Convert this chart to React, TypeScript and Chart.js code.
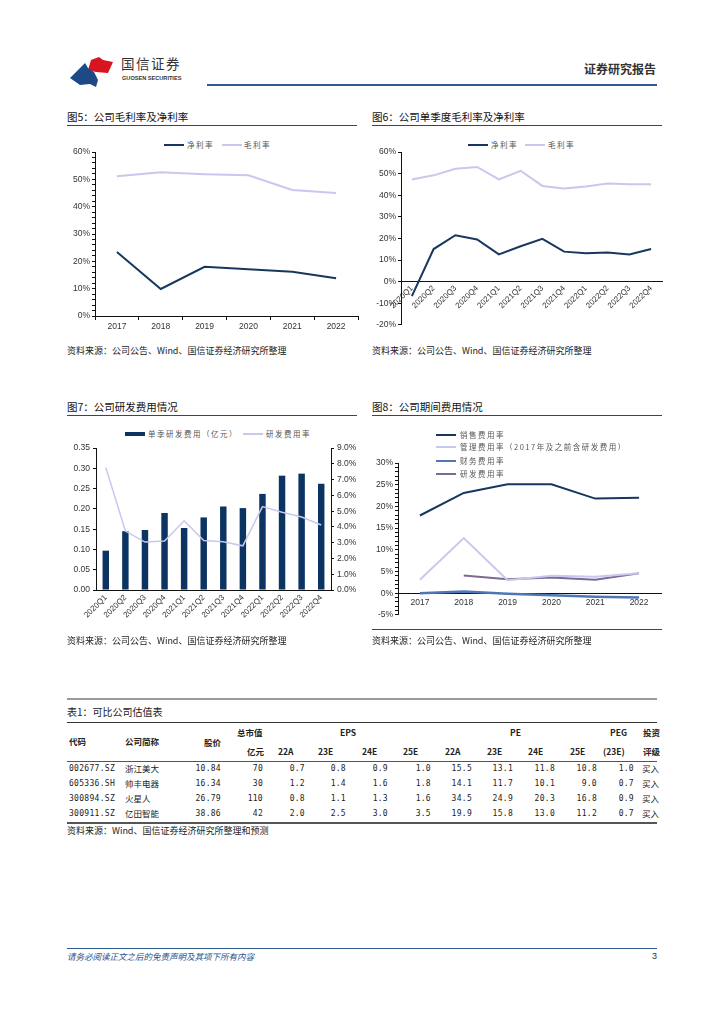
import React, { useEffect, useRef } from "react";
import { Chart, registerables } from "chart.js";

Chart.register(...registerables);

// ---------- data ----------
const years = ["2017", "2018", "2019", "2020", "2021", "2022"];
const netMarginYear = [23.4, 9.9, 18.0, 17.1, 16.2, 13.8];
const grossMarginYear = [51.1, 52.6, 51.9, 51.5, 46.1, 45.0];

const quarters = ["2020Q1", "2020Q2", "2020Q3", "2020Q4", "2021Q1", "2021Q2", "2021Q3", "2021Q4", "2022Q1", "2022Q2", "2022Q3", "2022Q4"];
const netMarginQ = [-6.7, 15.1, 21.5, 19.5, 12.6, 16.4, 19.8, 13.9, 13.1, 13.5, 12.6, 15.1];
const grossMarginQ = [47.3, 49.2, 52.2, 53.1, 47.3, 51.3, 44.3, 43.1, 44.0, 45.4, 45.1, 45.1];

const rdExpenseQ = [0.097, 0.145, 0.148, 0.19, 0.153, 0.179, 0.206, 0.202, 0.237, 0.282, 0.287, 0.262];
const rdRateQ = [7.77, 3.74, 3.04, 3.1, 4.39, 3.14, 3.06, 2.8, 5.29, 4.93, 4.63, 4.12];

const salesRate = [17.9, 23.1, 25.1, 25.1, 21.8, 22.0];
const mgmtRate = [3.1, 12.7, 3.0, 4.0, 3.8, 4.6];
const financeRate = [0.0, 0.4, -0.1, -0.45, -0.8, -1.0];
const rdRateYear = [null, 4.1, 3.2, 3.6, 3.1, 4.6];

// table
const tCodes = ["002677.SZ", "605336.SH", "300894.SZ", "300911.SZ"];
const tNames = ["浙江美大", "帅丰电器", "火星人", "亿田智能"];
const tPrice = ["10.84", "16.34", "26.79", "38.86"];
const tMktCap = ["70", "30", "110", "42"];
const tEps22A = ["0.7", "1.2", "0.8", "2.0"];
const tEps23E = ["0.8", "1.4", "1.1", "2.5"];
const tEps24E = ["0.9", "1.6", "1.3", "3.0"];
const tEps25E = ["1.0", "1.8", "1.6", "3.5"];
const tPe22A = ["15.5", "14.1", "34.5", "19.9"];
const tPe23E = ["13.1", "11.7", "24.9", "15.8"];
const tPe24E = ["11.8", "10.1", "20.3", "13.0"];
const tPe25E = ["10.8", "9.0", "16.8", "11.2"];
const tPeg = ["1.0", "0.7", "0.9", "0.7"];
const tRating = ["买入", "买入", "买入", "买入"];

// ---------- styles ----------
const NAVY = "#17375f";
const LAVENDER = "#c8c8ee";
const BAR = "#0c3462";
const FIN = "#4f77b3";
const PURPLE = "#7b6a93";

const CJK = "'Noto Sans CJK SC', 'Noto Sans', sans-serif";
const TICKFONT = { family: "'Liberation Sans', Arial, sans-serif", size: 8.5 };

Chart.defaults.font.family = "'Liberation Sans', Arial, sans-serif";
Chart.defaults.color = "#333";

function ChartBox({ left, top, width, height, config }: any) {
  const ref = useRef<HTMLCanvasElement | null>(null);
  useEffect(() => {
    if (!ref.current) return;
    const c = new Chart(ref.current, config);
    return () => c.destroy();
  }, []);
  return (
    <div style={{ position: "absolute", left, top, width, height }}>
      <canvas ref={ref} width={width} height={height} style={{ width, height }} />
    </div>
  );
}

const abs = (o: any) => ({ position: "absolute" as const, ...o });

function Title({ x, y, text }: any) {
  return (
    <>
      <div style={abs({ left: x, top: y - 8, fontFamily: CJK, fontSize: 10.5, color: "#111", whiteSpace: "nowrap", lineHeight: "16px" })}>{text}</div>
      <div style={abs({ left: x, top: y + 8, width: 290, height: 1, background: "#444" })} />
    </>
  );
}

function Source({ x, y, text }: any) {
  return (
    <div style={abs({ left: x, top: y - 7, fontFamily: CJK, fontSize: 9, color: "#222", whiteSpace: "nowrap", lineHeight: "14px" })}>{text}</div>
  );
}

function LegLine({ x, y, color, w = 2, text, tx }: any) {
  return (
    <>
      <div style={abs({ left: x, top: y - w / 2, width: 20, height: w, background: color })} />
      <div style={abs({ left: tx ?? x + 24, top: y - 6, fontFamily: CJK, fontSize: 7.5, color: "#555", letterSpacing: 1.5, whiteSpace: "nowrap", lineHeight: "12px" })}>{text}</div>
    </>
  );
}

const lineDs = (label: string, data: any[], color: string, width = 2, extra: any = {}) => ({
  type: "line",
  label,
  data,
  borderColor: color,
  backgroundColor: color,
  borderWidth: width,
  pointRadius: 0,
  tension: 0,
  fill: false,
  ...extra,
});

const axisBorder = { color: "#111", width: 1 };

// ---------- chart configs ----------
const cfg5: any = {
  type: "line",
  data: {
    labels: years,
    datasets: [lineDs("净利率", netMarginYear, NAVY), lineDs("毛利率", grossMarginYear, LAVENDER)],
  },
  options: {
    animation: false,
    responsive: false,
    layout: { padding: { top: 12, right: 2, left: 0, bottom: 0 } },
    plugins: { legend: { display: false }, tooltip: { enabled: false } },
    scales: {
      x: {
        offset: true,
        grid: { offset: true, drawOnChartArea: false, tickLength: 4, color: "#111" },
        border: axisBorder,
        ticks: { font: TICKFONT, padding: 2, color: "#333", maxRotation: 0 },
        afterFit: (s: any) => { s.height = 24; },
      },
      y: {
        min: 0,
        max: 60,
        grid: { drawOnChartArea: false, tickLength: 3, color: "#111" },
        border: axisBorder,
        ticks: {
          stepSize: 2,
          autoSkip: false,
          font: TICKFONT,
          padding: 2,
          color: "#333",
          callback: (v: any) => (Math.round(v) % 10 === 0 ? Math.round(v) + "%" : ""),
        },
        afterFit: (s: any) => { s.width = 33; },
      },
    },
  },
};

const cfg6: any = {
  type: "line",
  data: {
    labels: quarters,
    datasets: [lineDs("净利率", netMarginQ, NAVY), lineDs("毛利率", grossMarginQ, LAVENDER)],
  },
  options: {
    animation: false,
    responsive: false,
    layout: { padding: { top: 12, right: 2, left: 0, bottom: 4 } },
    plugins: { legend: { display: false }, tooltip: { enabled: false } },
    scales: {
      x: {
        position: { y: 0 },
        offset: true,
        grid: { offset: true, drawOnChartArea: false, tickLength: 0, color: "#111" },
        border: axisBorder,
        ticks: { font: { ...TICKFONT, size: 8 }, padding: 2, color: "#333", minRotation: 45, maxRotation: 45, autoSkip: false },
        afterFit: (s: any) => { s.height = 0; },
      },
      y: {
        min: -20,
        max: 60,
        grid: { drawOnChartArea: false, tickLength: 3, color: "#111" },
        border: axisBorder,
        ticks: { stepSize: 10, font: TICKFONT, padding: 2, color: "#333", callback: (v: any) => v + "%" },
        afterFit: (s: any) => { s.width = 33; },
      },
    },
  },
};

const cfg7: any = {
  type: "bar",
  data: {
    labels: quarters,
    datasets: [
      lineDs("研发费用率", rdRateQ, LAVENDER, 1.5, { yAxisID: "y1", order: 0 }),
      {
        type: "bar",
        label: "单季研发费用（亿元）",
        data: rdExpenseQ,
        backgroundColor: BAR,
        borderWidth: 0,
        barPercentage: 0.33,
        categoryPercentage: 1,
        yAxisID: "y",
        order: 1,
      },
    ],
  },
  options: {
    animation: false,
    responsive: false,
    layout: { padding: { top: 8, right: 0, left: 0, bottom: 0 } },
    plugins: { legend: { display: false }, tooltip: { enabled: false } },
    scales: {
      x: {
        offset: true,
        grid: { offset: true, drawOnChartArea: false, tickLength: 0, color: "#111" },
        border: axisBorder,
        ticks: { font: { ...TICKFONT, size: 8 }, padding: 3, color: "#333", minRotation: 45, maxRotation: 45, autoSkip: false },
        afterFit: (s: any) => { s.height = 50; },
      },
      y: {
        position: "left",
        min: 0,
        max: 0.35,
        grid: { drawOnChartArea: false, tickLength: 3, color: "#111" },
        border: axisBorder,
        ticks: { stepSize: 0.05, font: TICKFONT, padding: 3, color: "#333", callback: (v: any) => Number(v).toFixed(2) },
        afterFit: (s: any) => { s.width = 34; },
      },
      y1: {
        position: "right",
        min: 0,
        max: 9,
        grid: { drawOnChartArea: false, tickLength: 3, color: "#111" },
        border: axisBorder,
        ticks: { stepSize: 1, font: TICKFONT, padding: 3, color: "#333", callback: (v: any) => Number(v).toFixed(1) + "%" },
        afterFit: (s: any) => { s.width = 29; },
      },
    },
  },
};

const cfg8: any = {
  type: "line",
  data: {
    labels: years,
    datasets: [
      lineDs("销售费用率", salesRate, NAVY),
      lineDs("管理费用率（2017年及之前含研发费用）", mgmtRate, LAVENDER),
      lineDs("财务费用率", financeRate, FIN, 2.5),
      lineDs("研发费用率", rdRateYear, PURPLE),
    ],
  },
  options: {
    animation: false,
    responsive: false,
    layout: { padding: { top: 23, right: 3, left: 0, bottom: 4 } },
    plugins: { legend: { display: false }, tooltip: { enabled: false } },
    scales: {
      x: {
        position: { y: 0 },
        offset: true,
        grid: { offset: true, drawOnChartArea: false, tickLength: 0, color: "#111" },
        border: axisBorder,
        ticks: { font: TICKFONT, padding: 4, color: "#333", maxRotation: 0 },
        afterFit: (s: any) => { s.height = 0; },
      },
      y: {
        min: -5,
        max: 30,
        grid: { drawOnChartArea: false, tickLength: 3, color: "#111" },
        border: axisBorder,
        ticks: {
          stepSize: 1,
          autoSkip: false,
          font: TICKFONT,
          padding: 2,
          color: "#333",
          callback: (v: any) => (Math.round(v) % 5 === 0 ? Math.round(v) + "%" : ""),
        },
        afterFit: (s: any) => { s.width = 30; },
      },
    },
  },
};

// ---------- table ----------
const rowY = [769, 784, 799, 814];
const rightCols: [string[], number][] = [
  [tPrice, 221],
  [tMktCap, 263],
  [tEps22A, 305],
  [tEps23E, 346],
  [tEps24E, 388],
  [tEps25E, 431],
  [tPe22A, 472],
  [tPe23E, 513],
  [tPe24E, 555],
  [tPe25E, 597],
  [tPeg, 634],
];

const TF = { fontFamily: CJK, fontSize: 8.5, color: "#222", whiteSpace: "nowrap" as const, lineHeight: "12px" };
const NF = { fontFamily: "'DejaVu Sans Mono', 'Liberation Mono', monospace", fontSize: 8, color: "#222", whiteSpace: "nowrap" as const, lineHeight: "12px", letterSpacing: 0.3 };

function Cell({ x, y, text, right, bold, num }: any) {
  const base = num ? NF : TF;
  const style: any = { ...base, top: y - (num ? 6 : 7), fontWeight: bold ? 700 : 400 };
  if (right) style.right = 724 - x;
  else style.left = x;
  return <div style={abs(style)}>{text}</div>;
}

function Table() {
  const cells: any[] = [];
  const hdr1 = [["总市值", 237], ["EPS", 340], ["PE", 510], ["PEG", 610], ["投资", 643]];
  const hdr2 = [["亿元", 247], ["22A", 278], ["23E", 318], ["24E", 362], ["25E", 403], ["22A", 445], ["23E", 487], ["24E", 528], ["25E", 570], ["(23E)", 603], ["评级", 643]];
  hdr1.forEach(([t, x], i) => cells.push(<Cell key={"h1" + i} x={x} y={733} text={t} bold />));
  hdr2.forEach(([t, x], i) => cells.push(<Cell key={"h2" + i} x={x} y={752} text={t} bold />));
  cells.push(<Cell key="hc" x={69} y={742} text="代码" bold />);
  cells.push(<Cell key="hn" x={125} y={742} text="公司简称" bold />);
  cells.push(<Cell key="hp" x={204} y={743} text="股价" bold />);
  rowY.forEach((y, r) => {
    cells.push(<Cell key={"c" + r} x={69} y={y} text={tCodes[r]} num />);
    cells.push(<Cell key={"n" + r} x={125} y={y} text={tNames[r]} />);
    rightCols.forEach(([arr, x], ci) => cells.push(<Cell key={"v" + r + "-" + ci} x={x} y={y} text={arr[r]} right num />));
    cells.push(<Cell key={"r" + r} x={642} y={y} text={tRating[r]} />);
  });
  return (
    <>
      <div style={abs({ left: 67, top: 698, width: 590, height: 2, background: "#9a9a9a" })} />
      <div style={abs({ ...TF, fontSize: 10, left: 67, top: 705, lineHeight: "14px" })}>表1：可比公司估值表</div>
      <div style={abs({ left: 67, top: 722, width: 590, height: 1, background: "#333" })} />
      <div style={abs({ left: 67, top: 761, width: 590, height: 1, background: "#555" })} />
      <div style={abs({ left: 67, top: 822, width: 590, height: 1.5, background: "#555" })} />
      {cells}
      <Source x={67} y={831} text="资料来源：Wind、国信证券经济研究所整理和预测" />
    </>
  );
}

function Logo() {
  return (
    <svg style={abs({ left: 70, top: 54 })} width={46} height={36} viewBox="0 0 46 36">
      <polygon points="21,6 29,3 33,6 43,8 38,19 26,18 18,16" fill="#d7141f" />
      <polygon points="0,24 15,9 18,14 24,18 28,26 26,33 20,30 10,31" fill="#1d4a86" />
    </svg>
  );
}

export default function App() {
  return (
    <div style={{ position: "fixed", left: 0, top: 0, width: 724, height: 1024, background: "#fff", overflow: "hidden" }}>
      {/* header */}
      <Logo />
      <div style={abs({ left: 121, top: 54, fontFamily: CJK, fontSize: 13.5, color: "#333", letterSpacing: 1.5, lineHeight: "18px", whiteSpace: "nowrap" })}>国信证券</div>
      <div style={abs({ left: 122, top: 74, fontFamily: "'Liberation Sans', Arial, sans-serif", fontSize: 5.6, fontWeight: 700, color: "#333", lineHeight: "8px", whiteSpace: "nowrap" })}>GUOSEN SECURITIES</div>
      <div style={abs({ right: 724 - 656, top: 61, fontFamily: CJK, fontSize: 12, fontWeight: 700, color: "#333", lineHeight: "16px", whiteSpace: "nowrap" })}>证券研究报告</div>
      <div style={abs({ left: 207, top: 84, width: 450, height: 2, background: "#2e5c8e" })} />

      {/* chart 5 */}
      <Title x={67} y={117} text="图5：公司毛利率及净利率" />
      <LegLine x={164} y={145} color={NAVY} text="净利率" tx={187} />
      <LegLine x={222} y={145} color={LAVENDER} text="毛利率" tx={244} />
      <ChartBox left={62} top={140} width={298} height={200} config={cfg5} />
      <Source x={67} y={351} text="资料来源：公司公告、Wind、国信证券经济研究所整理" />

      {/* chart 6 */}
      <Title x={372} y={117} text="图6：公司单季度毛利率及净利率" />
      <LegLine x={468} y={145} color={NAVY} text="净利率" tx={491} />
      <LegLine x={525} y={145} color={LAVENDER} text="毛利率" tx={548} />
      <ChartBox left={368} top={140} width={296} height={192} config={cfg6} />
      <Source x={372} y={351} text="资料来源：公司公告、Wind、国信证券经济研究所整理" />

      {/* chart 7 */}
      <Title x={67} y={407} text="图7：公司研发费用情况" />
      <div style={abs({ left: 125, top: 432, width: 20, height: 4, background: BAR })} />
      <div style={abs({ left: 148, top: 428, fontFamily: CJK, fontSize: 7.5, color: "#555", letterSpacing: 1.5, whiteSpace: "nowrap", lineHeight: "12px" })}>单季研发费用（亿元）</div>
      <LegLine x={243} y={434} color={LAVENDER} w={1.5} text="研发费用率" tx={266} />
      <ChartBox left={62} top={440} width={298} height={200} config={cfg7} />
      <Source x={67} y={641} text="资料来源：公司公告、Wind、国信证券经济研究所整理" />

      {/* chart 8 */}
      <Title x={372} y={407} text="图8：公司期间费用情况" />
      <ChartBox left={368} top={440} width={296} height={182} config={cfg8} />
      <LegLine x={436} y={435} color={NAVY} text="销售费用率" tx={460} />
      <LegLine x={436} y={447} color={LAVENDER} text="管理费用率（2017年及之前含研发费用）" tx={460} />
      <LegLine x={436} y={461} color={FIN} w={2.5} text="财务费用率" tx={460} />
      <LegLine x={436} y={474} color={PURPLE} text="研发费用率" tx={460} />
      <div style={abs({ left: 372, top: 629, width: 290, height: 1, background: "#444" })} />
      <Source x={372} y={641} text="资料来源：公司公告、Wind、国信证券经济研究所整理" />

      {/* table */}
      <Table />

      {/* footer */}
      <div style={abs({ left: 67, top: 948, width: 590, height: 1, background: "#2e5c8e" })} />
      <div style={abs({ left: 67, top: 950, fontFamily: CJK, fontSize: 8.5, fontStyle: "italic", color: "#2d4f8a", lineHeight: "12px", whiteSpace: "nowrap" })}>请务必阅读正文之后的免责声明及其项下所有内容</div>
      <div style={abs({ right: 724 - 657, top: 950, fontFamily: "'Liberation Sans', Arial, sans-serif", fontSize: 9, color: "#333", lineHeight: "12px" })}>3</div>
    </div>
  );
}
